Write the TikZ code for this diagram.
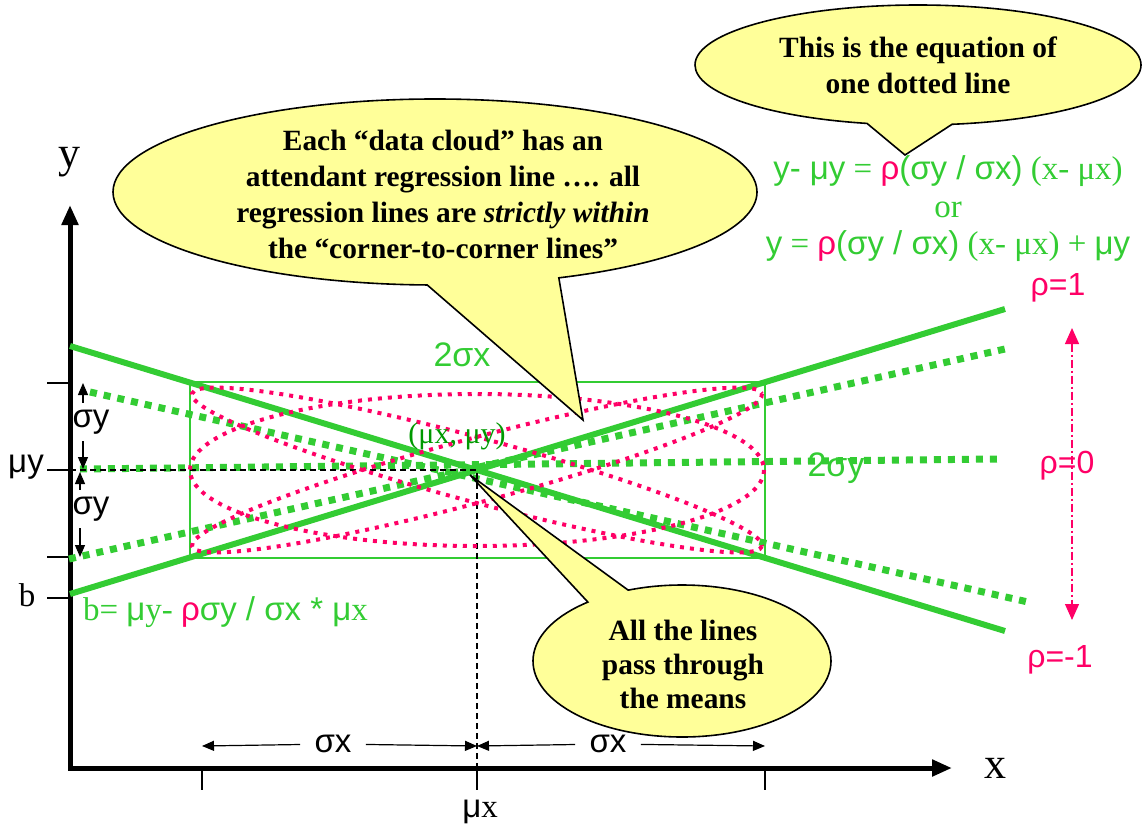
\documentclass[tikz,border=0pt]{standalone}
\usepackage{fontspec}
\setmainfont{Liberation Serif}
\setsansfont{Liberation Sans}
\usetikzlibrary{arrows.meta,shapes.callouts}

\definecolor{lgreen}{RGB}{51,204,51}
\definecolor{dgreen}{RGB}{0,153,0}
\definecolor{rosered}{RGB}{255,0,102}
\definecolor{bubblefill}{RGB}{255,255,153}

\begin{document}
\begin{tikzpicture}[x=0.5pt, y=-0.5pt,
  axis/.style={line width=2.5pt, line cap=rect, -{Triangle[length=10pt, width=8pt]}},
  tickmark/.style={line width=0.6pt},
  box/.style={lgreen, line width=0.8pt},
  corner/.style={lgreen, line width=3pt},
  regline/.style={lgreen, line width=3.5pt, dash pattern=on 3.5pt off 3.5pt},
  cloud/.style={rosered, line width=2pt, dash pattern=on 2pt off 3pt},
  guide/.style={line width=0.6pt, dash pattern=on 3pt off 2pt},
  dimarrow/.style={line width=0.6pt, -{Triangle[length=6pt, width=5pt]}},
  rhoarrow/.style={rosered, line width=0.6pt, dash pattern=on 4pt off 1.5pt on 1pt off 1.5pt,
    {Triangle[length=8pt, width=7pt]}-{Triangle[length=8pt, width=7pt]}},
  bubble/.style={ellipse callout, draw, line width=0.8pt, fill=bubblefill, inner sep=0pt},
  bubbletext/.style={font=\bfseries\fontsize{14.7pt}{18pt}\selectfont, align=center},
  axislabel/.style={font=\fontsize{22pt}{24pt}\selectfont},
  numlabel/.style={font=\fontsize{16.5pt}{18pt}\selectfont},
  lab/.style={font=\sffamily\fontsize{16.5pt}{18pt}\selectfont},
  eqn/.style={font=\fontsize{16.5pt}{18.75pt}\selectfont, text=lgreen, align=center}
]
\useasboundingbox (0,0) rectangle (1143,834);

% ==================== AXES ====================
\coordinate (O) at (70,768);
\coordinate (ytip) at (70,205);
\coordinate (xtip) at (952,768);
\draw[axis] (O) -- (ytip);
\draw[axis] (O) -- (xtip);
\node[axislabel] (ylab) at (69,162) {y};
\node[axislabel] (xlab) at (995,768) {x};

% Ticks on the y axis
\foreach \name/\ty in {tsig/383, tmuy/470, tlow/557, tb/598} {
  \coordinate (\name) at (70,\ty);
  \draw[tickmark] (\name) -- ++(-23,0);
}
\node[numlabel] (muylab) at (26,467) {\textsf{μy}};
\node[numlabel] (blab) at (27,595) {b};

% Ticks on the x axis
\foreach \name/\tx in {tlft/202, tmux/477, trgt/765} {
  \coordinate (\name) at (\tx,770);
  \draw[tickmark] (\name) -- ++(0,20);
}
\node[numlabel] (muxlab) at (480,812) {\textsf{μ}x};

% ==================== BOX AND LINES ====================
\coordinate (M) at (477,470);
\draw[box] (190,382) rectangle (765,558);

% corner-to-corner lines (rho = 1, rho = -1)
\draw[corner] (70,346) -- (1005,631);
\draw[corner] (70,594) -- (1005,309);

% regression lines (dotted)
\draw[regline] (90,392) -- (1028,602);
\draw[regline] (69,559) -- (1005,349);
\draw[regline] (80,469) -- (998,459);

% guides to the means
\draw[guide] (tmuy) -- (M) -- (477,768);

% ==================== DATA CLOUDS ====================
\draw[cloud] (M) ellipse (287 and 76);
\draw[cloud, rotate around={15:(M)}] (M) ellipse (295 and 32);
\draw[cloud, rotate around={-15:(M)}] (M) ellipse (295 and 32);

% ==================== LABELS ====================
\node[lab, font=\sffamily\fontsize{17pt}{19pt}\selectfont, text=lgreen] (twosx) at (462,355) {2σx};
\node[lab, font=\sffamily\fontsize{17pt}{19pt}\selectfont, text=lgreen] (twosy) at (836,468) {2σy};
\node[font=\fontsize{15pt}{17pt}\selectfont, text=dgreen] (means) at (457,436) {(μx, μy)};

% sigma y spans
\coordinate (syA) at (83,383);
\coordinate (syB) at (83,469);
\coordinate (syC) at (80,472);
\coordinate (syD) at (80,557);
\node[lab] (syU) at (91,422) {σy};
\node[lab] (syL) at (91,509) {σy};
\draw[dimarrow] (syA |- syU.north) -- (syA);
\draw[dimarrow] (syB |- syU.south) -- (syB);
\draw[dimarrow] (syC |- syL.north) -- (syC);
\draw[dimarrow] (syD |- syL.south) -- (syD);

% sigma x spans
\coordinate (sxA) at (202,746);
\coordinate (sxB) at (477,746);
\coordinate (sxC) at (765,746);
\node[lab, inner sep=7pt] (sxL) at (333,744) {σx};
\node[lab, inner sep=7pt] (sxR) at (608,744) {σx};
\draw[dimarrow] (sxL) -- (sxA);
\draw[dimarrow] (sxL) -- (sxB);
\draw[dimarrow] (sxR) -- (sxB);
\draw[dimarrow] (sxR) -- (sxC);

% intercept
\node[numlabel, text=lgreen, anchor=west] (bform) at (76,612)
  {b= \textsf{μ}y- \textcolor{rosered}{\textsf{ρ}}\textsf{σy / σx * μ}x};

% rho scale
\node[lab, font=\sffamily\fontsize{16pt}{18pt}\selectfont, text=rosered] (rone) at (1058,288) {ρ=1};
\node[lab, font=\sffamily\fontsize{16pt}{18pt}\selectfont, text=rosered] (rzero) at (1067,466) {ρ=0};
\node[lab, font=\sffamily\fontsize{16pt}{18pt}\selectfont, text=rosered] (rmone) at (1060,660) {ρ=-1};
\coordinate (rtop) at (1072,328);
\coordinate (rbot) at (1072,620);
\draw[rhoarrow] (rtop) -- (rbot);

% equation of one dotted line
\node[eqn] (eqline) at (948,209)
  {\textsf{y- μy} = \textcolor{rosered}{\textsf{ρ}}\textsf{(σy / σx)} (x- μx)\\
   or\\
   \textsf{y} = \textcolor{rosered}{\textsf{ρ}}\textsf{(σy / σx)} (x- μx) + \textsf{μy}};

% ==================== CALLOUTS ====================
\coordinate (eqtip) at (905,155);
\node[bubble, minimum width=223pt, minimum height=60pt, callout pointer arc=22,
  callout absolute pointer={(eqtip)}] (eqcall) at (918,65) {};
\node[bubbletext] (eqtext) at (eqcall.center) {This is the equation of\\one dotted line};

\coordinate (cloudtip) at (583,420);
\node[bubble, minimum width=322pt, minimum height=93pt, callout pointer arc=24,
  callout absolute pointer={(cloudtip)}] (cloudcall) at (435,192) {};
\node[bubbletext] (cloudtext) at (443,194)
  {Each “data cloud” has an\\
   attendant regression line …. all\\
   regression lines are \textit{strictly within}\\
   the “corner-to-corner lines”};

\coordinate (meantip) at (470,475);
\node[bubble, minimum width=149pt, minimum height=76pt, callout pointer arc=18,
  callout absolute pointer={(meantip)}] (meancall) at (682,661) {};
\node[bubbletext, font=\bfseries\fontsize{14.7pt}{17pt}\selectfont] (meantext) at (683,664)
  {All the lines\\pass through\\the means};

\end{tikzpicture}
\end{document}
